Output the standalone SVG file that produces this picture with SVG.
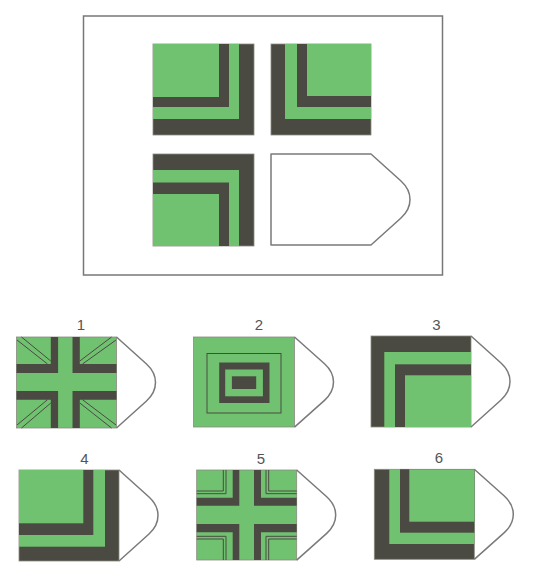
<svg xmlns="http://www.w3.org/2000/svg" xmlns:xlink="http://www.w3.org/1999/xlink" width="550" height="584" viewBox="0 0 550 584">
<style>
.g{fill:#70c270}
.d{fill:#4a4a42}
.sq{stroke:#8a8a80;stroke-width:0.8}
.tip{fill:none;stroke:#7a7a7a;stroke-width:1.5;stroke-linejoin:round}
.thin{fill:none;stroke:#4a4a42;stroke-width:1}
.lbl{font-family:"Liberation Sans",Arial,sans-serif;font-size:15px;fill:#555;text-anchor:middle}
</style>
<defs>
<path id="tip" d="M100,0 L130,27 C142,38 142,53 130,64 L100,91"/>
</defs>
<rect width="550" height="584" fill="#ffffff"/>
<rect id="frame" x="83.5" y="16" width="359" height="259" fill="none" stroke="#777" stroke-width="1.5"/>

<g id="m-tl" transform="translate(153,44)">
<rect class="d sq" width="101" height="91"/>
<rect class="g" width="86" height="75"/>
<rect class="d" width="76" height="63"/>
<rect class="g" width="66" height="53"/>
</g>
<g id="m-tr" transform="translate(271,44)">
<rect class="d sq" width="100" height="91"/>
<rect class="g" x="14" width="86" height="75"/>
<rect class="d" x="26" width="74" height="63"/>
<rect class="g" x="36" width="64" height="52"/>
</g>
<g id="m-bl" transform="translate(153,154)">
<rect class="d sq" width="101" height="92"/>
<rect class="g" y="16" width="86" height="76"/>
<rect class="d" y="28.5" width="76" height="63.5"/>
<rect class="g" y="40" width="66" height="52"/>
</g>
<g id="m-br" transform="translate(271,154)">
<path d="M0,0 H100 L130,27 C142,38 142,53 130,64 L100,91 H0 Z" fill="#fff" stroke="#7a7a7a" stroke-width="1.5" stroke-linejoin="round"/>
</g>

<g id="opt1" transform="translate(16.5,337)">
<text class="lbl" x="64.5" y="-7">1</text>
<rect class="g sq" width="100" height="91"/>
<path class="d" d="M34.3,0 H41.6 V36 H0 V27 H34.3 Z M56,0 H63.3 V27 H100 V36 H56 Z M0,54 H41.6 V91 H34.3 V62.7 H0 Z M56,54 H100 V62.7 H63.3 V91 H56 Z"/>
<path class="thin" d="M0.5,3 L31,27 M5,0 L34.3,24 M99.5,3 L66,27 M95,0 L63.3,24 M0.5,88 L31,62.7 M5,91 L34.3,66 M99.5,88 L66,62.7 M95,91 L63.3,66"/>
<use href="#tip" class="tip"/>
</g>

<g id="opt2" transform="translate(193.5,337)">
<text class="lbl" x="65.5" y="-7">2</text>
<rect class="g sq" width="101" height="90"/>
<rect class="thin" x="13.5" y="16.5" width="74" height="59.5"/>
<rect class="d" x="25.7" y="25.5" width="50.3" height="40.5"/>
<rect class="g" x="31.7" y="32.5" width="37.7" height="26.8"/>
<rect class="d" x="38.4" y="39.3" width="24.3" height="12.7"/>
<use href="#tip" class="tip" transform="translate(1,0) scale(1,0.99)"/>
</g>

<g id="opt3" transform="translate(371,336)">
<text class="lbl" x="65.5" y="-6">3</text>
<rect class="d sq" width="100" height="91"/>
<rect class="g" x="13.3" y="16" width="86.7" height="75"/>
<rect class="d" x="24" y="28.3" width="76" height="62.7"/>
<rect class="g" x="34" y="39.3" width="66" height="51.7"/>
<use href="#tip" class="tip"/>
</g>

<g id="opt4" transform="translate(19,470)">
<text class="lbl" x="65.5" y="-6.5">4</text>
<rect class="d sq" width="100" height="91"/>
<rect class="g" width="86" height="76.7"/>
<rect class="d" width="74.3" height="65"/>
<rect class="g" width="64.3" height="53.3"/>
<use href="#tip" class="tip"/>
</g>

<g id="opt5" transform="translate(196.7,470)">
<text class="lbl" x="64.3" y="-6.5">5</text>
<rect class="g sq" width="100" height="90"/>
<path class="d" d="M36,0 H42.6 V35.7 H0 V27.7 H36 Z M57.3,0 H64.3 V27.7 H100 V35.7 H57.3 Z M0,54 H42.6 V90 H36 V62.3 H0 Z M57.3,54 H100 V62.3 H64.3 V90 H57.3 Z"/>
<path class="thin" d="M26.6,0 V21 H0 M29.3,0 V23.7 H0 M72,0 V21 H100 M69.3,0 V23.7 H100 M26.6,90 V69 H0 M29.3,90 V66.3 H0 M72,90 V69 H100 M69.3,90 V66.3 H100"/>
<use href="#tip" class="tip" transform="scale(1,0.99)"/>
</g>

<g id="opt6" transform="translate(374.3,469.3)">
<text class="lbl" x="64.7" y="-6">6</text>
<rect class="d sq" width="100" height="90"/>
<rect class="g" x="15" width="85" height="74.7"/>
<rect class="d" x="25.7" width="74.3" height="63.4"/>
<rect class="g" x="35" width="65" height="52.4"/>
<use href="#tip" class="tip" transform="scale(1,0.99)"/>
</g>
</svg>
